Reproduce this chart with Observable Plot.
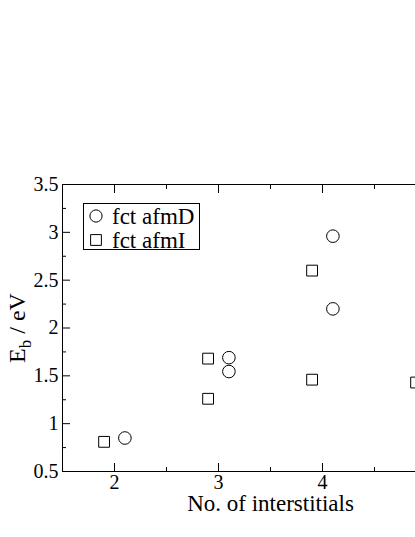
<!DOCTYPE html>
<html>
<head>
<meta charset="utf-8">
<script src="https://cdn.jsdelivr.net/npm/d3@7"></script>
<script src="https://cdn.jsdelivr.net/npm/@observablehq/plot@0.6"></script>
<style>
  html, body { margin: 0; padding: 0; background: #fff; overflow: hidden; }
  #wrap { width: 415px; height: 537px; overflow: hidden; position: relative; }
  #wrap svg { max-width: none !important; display: block; }
  #wrap svg, #wrap svg text, #wrap svg tspan { font-family: "Liberation Serif", "DejaVu Serif", serif !important; }
</style>
</head>
<body>
<div id="wrap"></div>
<script>
// Data
const seriesNames = ["fct afmD", "fct afmI"];
const afmD_x = [2.1, 3.1, 3.1, 4.1, 4.1];
const afmD_y = [0.85, 1.69, 1.545, 2.96, 2.20];
const afmI_x = [1.9, 2.9, 2.9, 3.9, 3.9, 4.9];
const afmI_y = [0.81, 1.68, 1.26, 2.60, 1.46, 1.43];

const xMajor = [2, 3, 4, 5];
const xLabels = [2, 3, 4];
const xMinor = [1.5, 2.5, 3.5, 4.5, 5.5];
const yMajor = [0.5, 1, 1.5, 2, 2.5, 3, 3.5];
const yMinor = [0.75, 1.25, 1.75, 2.25, 2.75, 3.25];
const xTitle = "No. of interstitials";

const dD = afmD_x.map((x, i) => ({x, y: afmD_y[i]}));
const dI = afmI_x.map((x, i) => ({x, y: afmI_y[i]}));

const font = "'Liberation Serif', 'DejaVu Serif', serif";

const chart = Plot.plot({
  width: 500,
  height: 537,
  marginLeft: 62,
  marginRight: 22,
  marginTop: 184,
  marginBottom: 66,
  style: {fontFamily: font, background: "#fff", maxWidth: "none", width: "500px"},
  x: {domain: [1.5, 5.5]},
  y: {domain: [0.5, 3.5]},
  marks: [
    Plot.frame({stroke: "#000", strokeWidth: 1}),
    Plot.axisX(xMajor, {anchor: "bottom", tickSize: -8, tickFormat: () => "", label: null, stroke: "#000"}),
    Plot.axisX(xMajor, {anchor: "top", tickSize: -8, tickFormat: () => "", label: null, stroke: "#000"}),
    Plot.axisX(xMinor, {anchor: "bottom", tickSize: -4, tickFormat: () => "", label: null, stroke: "#000"}),
    Plot.axisX(xMinor, {anchor: "top", tickSize: -4, tickFormat: () => "", label: null, stroke: "#000"}),
    Plot.axisY(yMajor, {anchor: "left", tickSize: -8, tickFormat: () => "", label: null, stroke: "#000"}),
    Plot.axisY(yMajor, {anchor: "right", tickSize: -8, tickFormat: () => "", label: null, stroke: "#000"}),
    Plot.axisY(yMinor, {anchor: "left", tickSize: -4, tickFormat: () => "", label: null, stroke: "#000"}),
    Plot.axisY(yMinor, {anchor: "right", tickSize: -4, tickFormat: () => "", label: null, stroke: "#000"}),
    Plot.axisX(xLabels, {anchor: "bottom", tickSize: 0, tickPadding: 3, label: null, fontSize: 20, fill: "#000", tickFormat: d => String(d)}),
    Plot.axisY(yMajor, {anchor: "left", tickSize: 0, tickPadding: 4, label: null, fontSize: 20, fill: "#000", tickFormat: d => String(d)}),
    Plot.text([xTitle], {frameAnchor: "bottom", dy: 39, fontSize: 23, fill: "#000", lineAnchor: "bottom"}),
    Plot.dot(dD, {x: "x", y: "y", symbol: "circle", r: 6.3, stroke: "#000", strokeWidth: 1, fill: "none"}),
    Plot.dot(dI, {x: "x", y: "y", symbol: "square", r: 6.1, stroke: "#000", strokeWidth: 1, fill: "none"})
  ]
});

document.getElementById("wrap").appendChild(chart);

const svg = d3.select(chart);
const yt = svg.append("text")
  .attr("transform", "translate(25,328) rotate(-90)")
  .attr("text-anchor", "middle")
  .attr("font-size", 24)
  .attr("fill", "#000");
yt.append("tspan").text("E");
yt.append("tspan").attr("font-size", 17).attr("dy", 6).text("b");
yt.append("tspan").attr("dy", -6).text(" / eV");

const lg = svg.append("g").attr("text-anchor", "start");
lg.append("rect").attr("x", 83.5).attr("y", 203.5).attr("width", 116).attr("height", 46)
  .attr("fill", "#fff").attr("stroke", "#000").attr("stroke-width", 1);
const sym = [d3.symbolCircle, d3.symbolSquare];
seriesNames.forEach((name, i) => {
  const cy = 216 + i * 24;
  lg.append("path")
    .attr("d", d3.symbol(sym[i], Math.PI * 6.1 * 6.1)())
    .attr("transform", `translate(96,${cy})`)
    .attr("fill", "none").attr("stroke", "#000");
  lg.append("text").attr("x", 112).attr("y", cy + 8)
    .attr("font-size", 23).attr("fill", "#000").text(name);
});
</script>
</body>
</html>
